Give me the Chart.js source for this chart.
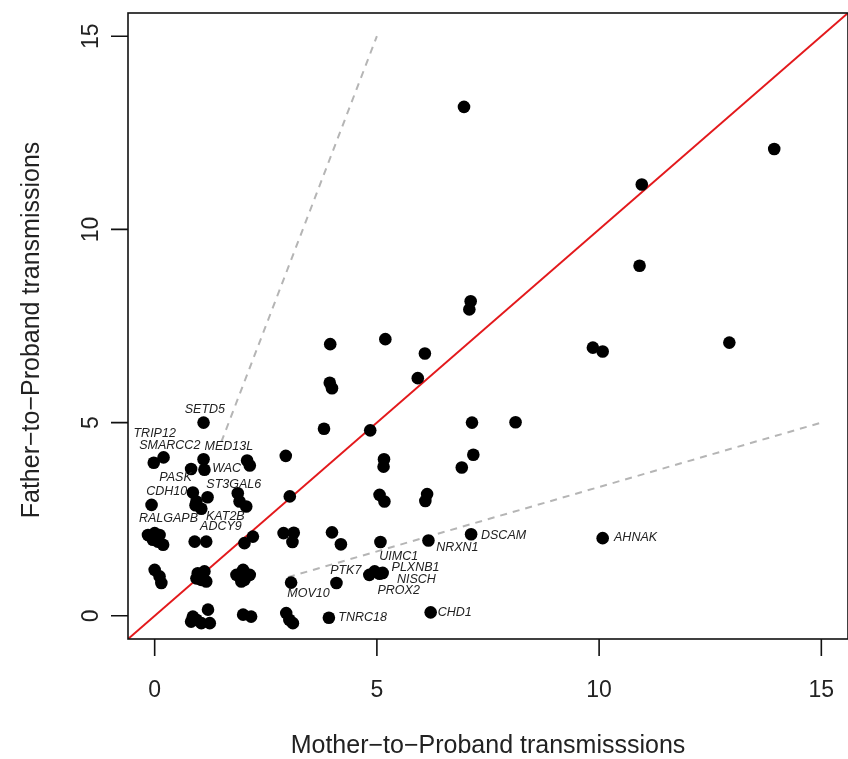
<!DOCTYPE html>
<html><head><meta charset="utf-8">
<script src="https://cdn.jsdelivr.net/npm/chart.js@4.4.1/dist/chart.umd.min.js"></script>
<style>html,body{margin:0;padding:0;background:#fff;overflow:hidden}canvas{display:block}</style>
</head><body>
<canvas id="c" width="848" height="759"></canvas>
<script>
// Mother-to-Proband (x) and Father-to-Proband (y) transmissions per gene (jittered counts)
const motherX = [
  6.96, 13.94, 10.96, 10.91, 7.11, 7.08, 9.86, 10.08, 12.93, 7.14, 8.12, 7.17, 6.91,
  3.95, 5.19, 6.08, 5.92, 3.94, 3.99, 3.81, 4.85, 2.95, 5.16, 5.15, 3.04, 5.06, 5.17, 6.13, 6.09,
  2.90, 3.13, 3.10, 3.99, 4.19, 5.08, 6.16, 7.12, 10.08,
  4.83, 4.95, 5.06, 5.13, 4.09, 3.07, 3.92, 6.21, 2.96, 3.03, 3.11,
  -0.02, 0.20, 0.82, 1.10, 1.12, 2.08, 2.14, 1.10, -0.07,
  0.86, 0.94, 1.19, 1.05, 0.92, 1.87, 1.91, 2.06,
  -0.15, 0.00, 0.11, -0.04, 0.07, 0.19, 0.90, 1.16, 2.02, 2.21,
  0.00, 0.11, 0.15, 0.97, 1.12, 1.05, 1.16, 0.94, 1.84, 1.99, 2.14, 2.02, 1.95,
  0.86, 0.94, 1.20, 1.05, 1.24, 0.82, 1.99, 2.17
];
const fatherY = [
  13.17, 12.08, 11.16, 9.06, 8.14, 7.93, 6.94, 6.84, 7.07, 5.00, 5.01, 4.17, 3.84,
  7.03, 7.16, 6.79, 6.15, 6.03, 5.89, 4.84, 4.80, 4.14, 4.05, 3.86, 3.09, 3.13, 2.96, 3.15, 2.97,
  2.14, 2.15, 1.91, 2.16, 1.85, 1.91, 1.95, 2.11, 2.01,
  1.06, 1.15, 1.09, 1.11, 0.85, 0.86, -0.05, 0.09, 0.07, -0.10, -0.19,
  3.96, 4.10, 3.80, 4.05, 3.78, 4.02, 3.89, 5.00, 2.87,
  3.19, 2.96, 3.07, 2.77, 2.86, 3.17, 2.96, 2.83,
  2.09, 2.14, 2.09, 1.97, 1.92, 1.84, 1.92, 1.92, 1.88, 2.05,
  1.19, 1.02, 0.85, 1.10, 1.15, 0.93, 0.89, 0.97, 1.06, 1.19, 1.06, 0.93, 0.89,
  -0.02, -0.10, 0.16, -0.19, -0.19, -0.15, 0.03, -0.02
];

// Gene labels (text centre in data units)
const geneNames  = ['SETD5','TRIP12','SMARCC2','MED13L','WAC','PASK','ST3GAL6','CDH10','KAT2B','RALGAPB','ADCY9',
                    'DSCAM','AHNAK','NRXN1','UIMC1','PLXNB1','PTK7','NISCH','PROX2','MOV10','CHD1','TNRC18'];
const geneLabelX = [1.13, 0.00, 0.34, 1.67, 1.62, 0.47, 1.78, 0.27, 1.59, 0.31, 1.49,
                    7.85, 10.82, 6.81, 5.49, 5.87, 4.30, 5.89, 5.49, 3.46, 6.75, 4.68];
const geneLabelY = [5.35, 4.72, 4.42, 4.38, 3.80, 3.57, 3.41, 3.21, 2.56, 2.51, 2.30,
                    2.09, 2.02, 1.78, 1.53, 1.24, 1.16, 0.93, 0.65, 0.57, 0.08, -0.05];

const tickValues = [0, 5, 10, 15];
const tickLabels = ['0', '5', '10', '15'];

// Reference lines: y = x, y = 3x, y = x/3
const diagX  = [-0.6, 15.6], diagY  = [-0.6, 15.6];
const upperX = [1.5, 5],     upperY = [4.5, 15];
const lowerX = [3, 15],      lowerY = [1, 5];

const xTitle = 'Mother\u2212to\u2212Proband transmisssions';
const yTitle = 'Father\u2212to\u2212Proband transmissions';

const toPts = (xs, ys) => xs.map((x, i) => ({x, y: ys[i]}));

const rPlot = {
  id: 'rPlot',
  afterDatasetsDraw(chart) {
    const {ctx, chartArea: a, scales: {x, y}} = chart;
    ctx.save();
    // gene labels
    ctx.fillStyle = '#222';
    ctx.font = 'italic 12.5px "Liberation Sans", Arial, sans-serif';
    ctx.textAlign = 'center';
    ctx.textBaseline = 'middle';
    geneNames.forEach((n, i) => {
      ctx.fillText(n, x.getPixelForValue(geneLabelX[i]), y.getPixelForValue(geneLabelY[i]));
    });
    // box
    ctx.strokeStyle = '#111';
    ctx.lineWidth = 1.6;
    ctx.strokeRect(a.left, a.top, a.right - a.left, a.bottom - a.top);
    // ticks
    ctx.beginPath();
    tickValues.forEach(v => {
      const px = x.getPixelForValue(v);
      ctx.moveTo(px, a.bottom); ctx.lineTo(px, a.bottom + 17);
      const py = y.getPixelForValue(v);
      ctx.moveTo(a.left, py); ctx.lineTo(a.left - 17, py);
    });
    ctx.stroke();
    ctx.fillStyle = '#222';
    ctx.font = '23px "Liberation Sans", Arial, sans-serif';
    ctx.textAlign = 'center';
    ctx.textBaseline = 'middle';
    tickValues.forEach((v, i) => {
      ctx.fillText(tickLabels[i], x.getPixelForValue(v), 691);
      ctx.save();
      ctx.translate(92, y.getPixelForValue(v));
      ctx.rotate(-Math.PI / 2);
      ctx.fillText(tickLabels[i], 0, 0);
      ctx.restore();
    });
    // axis titles
    ctx.font = '25px "Liberation Sans", Arial, sans-serif';
    ctx.fillText(xTitle, (a.left + a.right) / 2, 746);
    ctx.save();
    ctx.translate(32, (a.top + a.bottom) / 2 + 4);
    ctx.rotate(-Math.PI / 2);
    ctx.fillText(yTitle, 0, 0);
    ctx.restore();
    ctx.restore();
  }
};

new Chart(document.getElementById('c'), {
  type: 'scatter',
  data: {
    datasets: [
      { data: toPts(motherX, fatherY), backgroundColor: '#000', borderWidth: 0, pointRadius: 6.3, pointHoverRadius: 6.3 },
      { type: 'line', data: toPts(diagX, diagY), borderColor: '#e3191c', borderWidth: 2, pointRadius: 0, fill: false },
      { type: 'line', data: toPts(upperX, upperY), borderColor: '#b5b5b5', borderWidth: 2, borderDash: [7, 6], pointRadius: 0, fill: false },
      { type: 'line', data: toPts(lowerX, lowerY), borderColor: '#b5b5b5', borderWidth: 2, borderDash: [7, 6], pointRadius: 0, fill: false }
    ]
  },
  options: {
    responsive: false,
    animation: false,
    devicePixelRatio: 1,
    layout: { autoPadding: false, padding: { left: 128, right: 0, top: 13, bottom: 120 } },
    plugins: { legend: { display: false }, tooltip: { enabled: false } },
    scales: {
      x: { type: 'linear', min: -0.6, max: 15.6, display: false },
      y: { type: 'linear', min: -0.6, max: 15.6, display: false }
    }
  },
  plugins: [rPlot]
});
</script>
</body></html>
